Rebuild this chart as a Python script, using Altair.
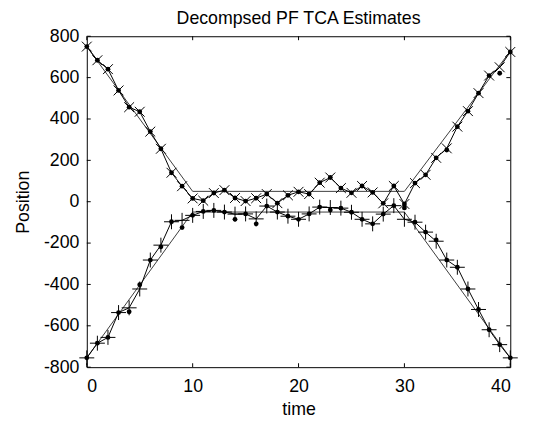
import altair as alt
import pandas as pd

# ---- data ----
time_steps = list(range(41))

upper_est = [750, 684, 641, 538, 457, 435, 339, 256, 140, 75, 16, 5, 42, 56, 18, 3, 17, 37, -7, 31,
             48, 37, 92, 117, 66, 43, 76, 45, -8, 76, -11, 90, 130, 212, 258, 363, 438, 525, 610, 650, 724]
lower_est = [-755, -684, -656, -536, -513, -422, -282, -210, -97, -90, -66, -47, -42, -50, -60, -59, -83, -21,
             -50, -70, -85, -59, -26, -28, -31, -51, -85, -107, -60, -19, -85, -99, -147, -191, -282, -317,
             -422, -521, -619, -691, -755]
upper_dots = [750, 684, 641, 538, 457, 435, 339, 256, 140, 75, 16, 5, 42, 56, 18, 3, 17, 37, -7, 31,
              48, 37, 92, 117, 66, 43, 76, 45, -8, 76, -11, 90, 130, 212, 250, 363, 438, 525, 610, 621, 724]
lower_dots = [-755, -684, -656, -536, -532, -401, -282, -218, -97, -125, -66, -47, -42, -50, -85, -59, -107, -21,
              -50, -70, -85, -59, -26, -40, -31, -51, -85, -107, -60, -19, -30, -99, -147, -185, -282, -317,
              -422, -521, -619, -691, -755]

true_t = [0, 10, 30, 40]
upper_true = [750, 50, 50, 728]
lower_true = [-755, -50, -50, -755]

x_ticks = [0, 10, 20, 30, 40]
y_ticks = [-800, -600, -400, -200, 0, 200, 400, 600, 800]

W, H = 430, 336
TL = 4  # inward tick length
FONT = "Liberation Sans"

# ---- tables ----
est = pd.DataFrame({
    "t": time_steps * 2,
    "v": upper_est + lower_est,
    "track": ["upper"] * 41 + ["lower"] * 41,
})
up = est[est.track == "upper"]
lo = est[est.track == "lower"]
dots = pd.DataFrame({"t": time_steps * 2, "v": upper_dots + lower_dots,
                     "track": ["upper"] * 41 + ["lower"] * 41})
truth = pd.DataFrame({"t": true_t * 2, "v": upper_true + lower_true,
                      "track": ["upper"] * 4 + ["lower"] * 4})
xt = pd.DataFrame({"t": x_ticks})
yt = pd.DataFrame({"v": y_ticks})

xs = alt.Scale(domain=[0, 40], nice=False, zero=False)
ys = alt.Scale(domain=[-800, 800], nice=False, zero=False)

neg = "datum.value < 0 ? '-' + abs(datum.value) : '' + datum.value"
X = alt.X("t:Q", scale=xs, title="time",
          axis=alt.Axis(values=x_ticks, tickSize=0, domain=False, grid=False, labelPadding=11,
                        titlePadding=5, labelExpr=neg))
Y = alt.Y("v:Q", scale=ys, title="Position",
          axis=alt.Axis(values=y_ticks, tickSize=0, domain=False, grid=False, labelPadding=8,
                        titlePadding=11, labelExpr=neg))

truth_layer = alt.Chart(truth).mark_line(color="#3c3c3c", strokeWidth=1).encode(x=X, y=Y, detail="track:N")
est_line = alt.Chart(est).mark_line(color="black", strokeWidth=1).encode(x=X, y=Y, detail="track:N")
x_marks = alt.Chart(up).mark_point(shape="M-1,-1L1,1M-1,1L1,-1", size=100, color="black",
                                   strokeWidth=1, filled=False, opacity=1).encode(x=X, y=Y)
p_marks = alt.Chart(lo).mark_point(shape="M-1,0L1,0M0,-1L0,1", size=230, color="black",
                                   strokeWidth=1, filled=False, opacity=1).encode(x=X, y=Y)
dot_marks = alt.Chart(dots).mark_circle(size=24, color="black", opacity=1).encode(x=X, y=Y)

xb = alt.Chart(xt).mark_rule(color="black", strokeWidth=1).encode(
    x=alt.X("t:Q", scale=xs), y=alt.value(H), y2=alt.value(H - TL))
xtop = alt.Chart(xt).mark_rule(color="black", strokeWidth=1).encode(
    x=alt.X("t:Q", scale=xs), y=alt.value(0), y2=alt.value(TL))
yl = alt.Chart(yt).mark_rule(color="black", strokeWidth=1).encode(
    y=alt.Y("v:Q", scale=ys), x=alt.value(0), x2=alt.value(TL))
yr = alt.Chart(yt).mark_rule(color="black", strokeWidth=1).encode(
    y=alt.Y("v:Q", scale=ys), x=alt.value(W - TL), x2=alt.value(W))

chart = alt.layer(truth_layer, est_line, x_marks, p_marks, dot_marks, xb, xtop, yl, yr).properties(
    width=W, height=H,
    title=alt.TitleParams("Decompsed PF TCA Estimates", fontSize=18, fontWeight="normal",
                          font=FONT, color="black", offset=-1),
    autosize=alt.AutoSizeParams(type="none"),
    padding={"left": 80, "top": 25.5, "right": 19, "bottom": 54},
).configure_view(stroke="black", strokeWidth=1).configure_axis(
    labelFont=FONT, titleFont=FONT, labelFontSize=18, titleFontSize=18,
    labelColor="black", titleColor="black", titleFontWeight="normal"
)

chart.save("out.html", embed_options={"renderer": "svg", "actions": False})
